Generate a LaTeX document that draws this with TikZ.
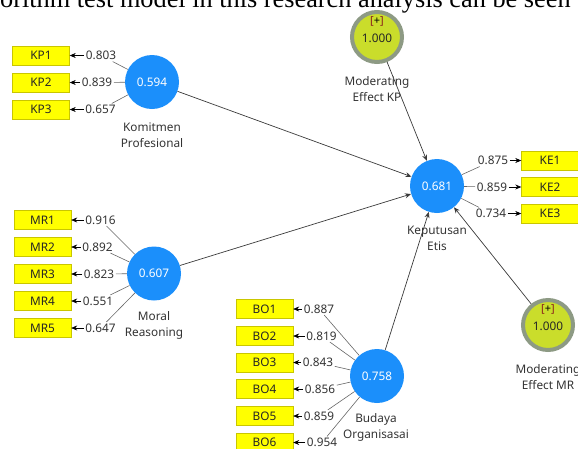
\documentclass[tikz,border=0pt]{standalone}
\usepackage{fontspec}
\setsansfont{Noto Sans}
\newfontfamily\docfont{Liberation Serif}
\usetikzlibrary{arrows.meta}

\definecolor{lvblue}{HTML}{1B8FFB}
\definecolor{indyellow}{HTML}{FFFF00}
\definecolor{indborder}{HTML}{C9C600}
\definecolor{modfill}{HTML}{CADD2B}
\definecolor{modring}{HTML}{8D9A84}
\definecolor{plusred}{HTML}{8B1C1C}
\definecolor{linegray}{HTML}{3A3A3A}

\begin{document}
\begin{tikzpicture}[x=1pt,y=-1pt,
  >={Stealth[length=6pt,width=5pt]},
  every node/.style={font=\sffamily\fontsize{11.8}{16}\selectfont},
  latent/.style={circle,fill=lvblue,minimum size=54pt,inner sep=0pt,text=white},
  moder/.style={circle,fill=modfill,draw=modring,line width=4pt,minimum size=50pt,inner sep=0pt,text=black!85},
  indicator/.style={rectangle,fill=indyellow,draw=indborder,minimum width=57pt,minimum height=19pt,inner sep=0pt,text=black!85},
  loading/.style={inner sep=1.5pt,text=black!80},
  lvname/.style={align=center,text=black!80},
  loadline/.style={draw=black!60,line width=0.6pt},
  loadarrow/.style={draw=black,line width=0.6pt,->},
  structline/.style={draw=linegray,line width=0.7pt,->}]
  \useasboundingbox (0,0) rectangle (578,448);
  \clip (0,0) rectangle (578,448);
  \node[anchor=base west,inner sep=0pt,font=\docfont\fontsize{26.3}{30}\selectfont] (caption) at (0,7) {orithm test model in this research analysis can be seen};

  \node[latent] (KP) at (152,82) {0.594};
  \node[lvname] (KPname) at (152,135) {Komitmen\\Profesional};
  \node[indicator] (KP1) at (41,55.5) {KP1};
  \node[indicator] (KP2) at (41,82.5) {KP2};
  \node[indicator] (KP3) at (41,109.5) {KP3};
  \node[loading] (lKP1) at (101,55.5) {0.803};
  \node[loading] (lKP2) at (97,82.5) {0.839};
  \node[loading] (lKP3) at (100.5,109.5) {0.657};
  \draw[loadline] (KP) -- (lKP1);
  \draw[loadline] (KP) -- (lKP2);
  \draw[loadline] (KP) -- (lKP3);
  \draw[loadarrow] (lKP1) -- (KP1);
  \draw[loadarrow] (lKP2) -- (KP2);
  \draw[loadarrow] (lKP3) -- (KP3);

  \node[latent] (MR) at (154,273.5) {0.607};
  \node[lvname] (MRname) at (154,325) {Moral\\Reasoning};
  \node[indicator] (MR1) at (42.5,220) {MR1};
  \node[indicator] (MR2) at (42.5,247) {MR2};
  \node[indicator] (MR3) at (42.5,274) {MR3};
  \node[indicator] (MR4) at (42.5,301) {MR4};
  \node[indicator] (MR5) at (42.5,328) {MR5};
  \node[loading] (lMR1) at (100.5,220) {0.916};
  \node[loading] (lMR2) at (97.5,247) {0.892};
  \node[loading] (lMR3) at (99,274) {0.823};
  \node[loading] (lMR4) at (98,301) {0.551};
  \node[loading] (lMR5) at (100.5,328) {0.647};
  \draw[loadline] (MR) -- (lMR1);
  \draw[loadline] (MR) -- (lMR2);
  \draw[loadline] (MR) -- (lMR3);
  \draw[loadline] (MR) -- (lMR4);
  \draw[loadline] (MR) -- (lMR5);
  \draw[loadarrow] (lMR1) -- (MR1);
  \draw[loadarrow] (lMR2) -- (MR2);
  \draw[loadarrow] (lMR3) -- (MR3);
  \draw[loadarrow] (lMR4) -- (MR4);
  \draw[loadarrow] (lMR5) -- (MR5);

  \node[latent] (BO) at (377,376) {0.758};
  \node[lvname] (BOname) at (376,427) {Budaya\\Organisasai};
  \node[indicator] (BO1) at (264.5,309) {BO1};
  \node[indicator] (BO2) at (264.5,336) {BO2};
  \node[indicator] (BO3) at (264.5,362.5) {BO3};
  \node[indicator] (BO4) at (264.5,389) {BO4};
  \node[indicator] (BO5) at (264.5,416) {BO5};
  \node[indicator] (BO6) at (264.5,442.5) {BO6};
  \node[loading] (lBO1) at (319,309) {0.887};
  \node[loading] (lBO2) at (321.5,336) {0.819};
  \node[loading] (lBO3) at (318,362.5) {0.843};
  \node[loading] (lBO4) at (320,389) {0.856};
  \node[loading] (lBO5) at (319,416) {0.859};
  \node[loading] (lBO6) at (322,442.5) {0.954};
  \draw[loadline] (BO) -- (lBO1);
  \draw[loadline] (BO) -- (lBO2);
  \draw[loadline] (BO) -- (lBO3);
  \draw[loadline] (BO) -- (lBO4);
  \draw[loadline] (BO) -- (lBO5);
  \draw[loadline] (BO) -- (lBO6);
  \draw[loadarrow] (lBO1) -- (BO1);
  \draw[loadarrow] (lBO2) -- (BO2);
  \draw[loadarrow] (lBO3) -- (BO3);
  \draw[loadarrow] (lBO4) -- (BO4);
  \draw[loadarrow] (lBO5) -- (BO5);
  \draw[loadarrow] (lBO6) -- (BO6);

  \node[latent] (KE) at (437,186) {0.681};
  \node[lvname] (KEname) at (437,238.5) {Keputusan\\Etis};
  \node[indicator] (KE1) at (550,160.5) {KE1};
  \node[indicator] (KE2) at (550,187) {KE2};
  \node[indicator] (KE3) at (550,213.5) {KE3};
  \node[loading] (lKE1) at (493,160.5) {0.875};
  \node[loading] (lKE2) at (492,187) {0.859};
  \node[loading] (lKE3) at (491,213.5) {0.734};
  \draw[loadline] (KE) -- (lKE1);
  \draw[loadline] (KE) -- (lKE2);
  \draw[loadline] (KE) -- (lKE3);
  \draw[loadarrow] (lKE1) -- (KE1);
  \draw[loadarrow] (lKE2) -- (KE2);
  \draw[loadarrow] (lKE3) -- (KE3);

  \node[moder] (MKP) at (377,37) {};
  \node[inner sep=0pt,text=black!85] (MKPval) at (377,38) {1.000};
  \node[inner sep=0pt,font=\sffamily\fontsize{11}{12}\selectfont] (MKPplus) at (377,21) {{\color{plusred}[}+{\color{plusred}]}};
  \node[lvname] (MKPname) at (377,89.5) {Moderating\\Effect KP};
  \node[moder] (MMR) at (548,325) {};
  \node[inner sep=0pt,text=black!85] (MMRval) at (548,326) {1.000};
  \node[inner sep=0pt,font=\sffamily\fontsize{11}{12}\selectfont] (MMRplus) at (548,309) {{\color{plusred}[}+{\color{plusred}]}};
  \node[lvname] (MMRname) at (548,377) {Moderating\\Effect MR};

  \draw[structline] (KP) -- (KE);
  \draw[structline] (MR) -- (KE);
  \draw[structline] (BO) -- (KE);
  \draw[structline] (MKP) -- (KE);
  \draw[structline] (MMR) -- (KE);
\end{tikzpicture}
\end{document}
